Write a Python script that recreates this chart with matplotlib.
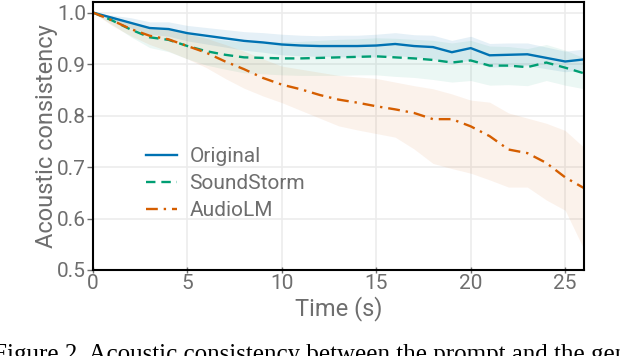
import numpy as np
import matplotlib
matplotlib.use('Agg')
import matplotlib.pyplot as plt

plt.rcParams['font.family'] = ['Roboto', 'DejaVu Sans']

# time in seconds
t = np.arange(0, 27)

original = [1.0, 0.99, 0.98, 0.97, 0.968, 0.96, 0.955, 0.95, 0.945, 0.942, 0.938,
            0.936, 0.935, 0.935, 0.935, 0.936, 0.939, 0.935, 0.933, 0.923, 0.931,
            0.917, 0.918, 0.919, 0.912, 0.905, 0.909]
original_std = [0, .005, .01, .012, .014, .015, .016, .017, .018, .019, .02, .02, .02,
                .021, .021, .022, .022, .022, .023, .023, .023, .023, .023, .022,
                .021, .02, .02]

soundstorm = [1.0, 0.985, 0.967, 0.952, 0.947, 0.935, 0.925, 0.918, 0.913, 0.912,
              0.911, 0.911, 0.912, 0.913, 0.914, 0.915, 0.913, 0.911, 0.908, 0.903,
              0.907, 0.897, 0.897, 0.894, 0.903, 0.893, 0.882]
soundstorm_std = [0, .008, .014, .02, .023, .025, .027, .028, .03, .031, .032, .033,
                  .034, .035, .035, .036, .037, .037, .038, .038, .039, .038, .037,
                  .036, .035, .034, .03]

audiolm = [1.0, 0.985, 0.968, 0.955, 0.948, 0.935, 0.922, 0.905, 0.89, 0.873, 0.86,
           0.851, 0.84, 0.831, 0.825, 0.818, 0.812, 0.805, 0.793, 0.793, 0.779,
           0.76, 0.734, 0.727, 0.708, 0.68, 0.659]
audiolm_lo = [1.0, 0.975, 0.955, 0.938, 0.925, 0.91, 0.893, 0.872, 0.853, 0.838, 0.825,
              0.81, 0.795, 0.78, 0.772, 0.765, 0.758, 0.735, 0.707, 0.697, 0.688,
              0.675, 0.661, 0.661, 0.636, 0.616, 0.54]
audiolm_hi = [1.0, 0.993, 0.982, 0.972, 0.968, 0.958, 0.95, 0.938, 0.925, 0.91, 0.896,
              0.89, 0.884, 0.878, 0.875, 0.872, 0.865, 0.858, 0.852, 0.842, 0.83,
              0.826, 0.805, 0.795, 0.785, 0.771, 0.738]

blue = '#0072B2'
green = '#009E73'
orange = '#D55E00'
gray = '#6e6e6e'

fig = plt.figure(figsize=(6.2, 3.56), dpi=100)
ax = fig.add_axes([0.15, 0.2416, 0.792, 0.752])

o = np.array(original); os_ = np.array(original_std)
s = np.array(soundstorm); ss = np.array(soundstorm_std)

ax.fill_between(t, o - os_, o + os_, color=blue, alpha=0.1, lw=0)
ax.fill_between(t, s - ss, s + ss, color=green, alpha=0.08, lw=0)
ax.fill_between(t, audiolm_lo, audiolm_hi, color=orange, alpha=0.08, lw=0)

ax.plot(t, original, color=blue, lw=1.7, label='Original')
ax.plot(t, soundstorm, color=green, lw=1.7, ls=(0, (4, 2.5)), label='SoundStorm')
ax.plot(t, audiolm, color=orange, lw=1.7, ls=(0, (5, 2.5, 1, 2.5)), label='AudioLM')

ax.set_xlim(0, 26)
ax.set_ylim(0.5, 1.02)
ax.set_xticks([0, 5, 10, 15, 20, 25])
ax.set_yticks([0.5, 0.6, 0.7, 0.8, 0.9, 1.0])
ax.grid(True, color='#ececec', lw=1.2)
ax.set_axisbelow(True)

for sp in ax.spines.values():
    sp.set_color('black')
    sp.set_linewidth(1.5)

ax.tick_params(axis='both', labelsize=15, colors=gray, length=4, width=1)
ax.tick_params(axis='x', direction='inout', pad=1)
ax.tick_params(axis='y', pad=1)
ax.set_xlabel('Time (s)', fontsize=17, color=gray, labelpad=2)
ax.set_ylabel('Acoustic consistency', fontsize=17, color=gray, labelpad=-1)

leg = ax.legend(loc='upper left', bbox_to_anchor=(0.09, 0.49), fontsize=15,
                frameon=False, handlelength=1.5, handletextpad=0.6,
                labelspacing=0.38, borderaxespad=0)
for txt in leg.get_texts():
    txt.set_color(gray)

# caption is cropped at the bottom/right edge like in the source image
fig.text(-0.012, 0.035, 'Figure 2. Acoustic consistency between the prompt and the generated',
         fontsize=18, family='Liberation Serif', va='top', ha='left', color='black')

fig.savefig('out.png', dpi=100)
